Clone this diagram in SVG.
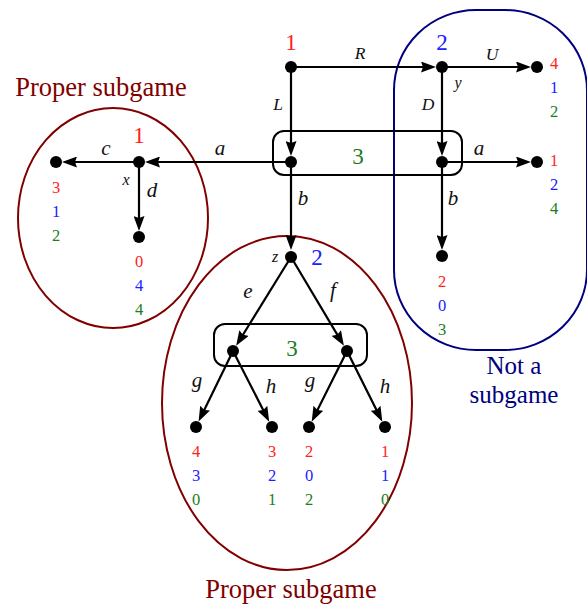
<svg xmlns="http://www.w3.org/2000/svg" width="587" height="610" viewBox="0 0 587 610">
<style>
.t{font-family:"Liberation Serif","Times New Roman",serif}
.pl{font-size:23px;text-anchor:middle}
.ed{font-size:21px;font-style:italic;text-anchor:middle;fill:#111}
.md{font-size:17.5px;font-style:italic;text-anchor:middle;fill:#111}
.sm{font-size:16px;font-style:italic;text-anchor:middle;fill:#111}
.po{font-size:16.5px;text-anchor:middle}
.r{fill:#ff2020}.b{fill:#2020ff}.g{fill:#1b7d1b}
.e{stroke:#000;stroke-width:2.2;fill:none;marker-end:url(#ah)}
.dot{fill:#000}
.info{fill:none;stroke:#000;stroke-width:2}
.lab{font-size:26.5px}
.lab2{font-size:25px}
</style>
<defs>
<marker id="ah" markerUnits="userSpaceOnUse" markerWidth="15" markerHeight="11" refX="4" refY="5.5" orient="auto" viewBox="0 0 15 11">
<path d="M0,0 L15,5.5 L0,11 L2,5.5 z" fill="#000"/>
</marker>
</defs>
<g id="regions">
<ellipse cx="113" cy="218" rx="95" ry="110" fill="none" stroke="#800000" stroke-width="2"/>
<ellipse cx="287" cy="403" rx="125" ry="167" fill="none" stroke="#800000" stroke-width="2"/>
<rect x="394" y="10" width="193" height="340" rx="82" ry="80" fill="none" stroke="#000080" stroke-width="2"/>
<text class="t lab" x="101" y="96" text-anchor="middle" fill="#800000">Proper subgame</text>
<text class="t lab" x="291" y="598" text-anchor="middle" fill="#800000">Proper subgame</text>
<text class="t lab2" x="514" y="374" text-anchor="middle" fill="#000080">Not a</text>
<text class="t lab2" x="514" y="403" text-anchor="middle" fill="#000080">subgame</text>
</g>
<g id="infosets">
<rect class="info" x="273" y="131" width="189" height="44" rx="11"/>
<rect class="info" x="214" y="324" width="153" height="42" rx="11"/>
</g>
<g id="connectors">
<line class="e" x1="291" y1="67" x2="425" y2="67"/>
<line class="e" x1="442" y1="67" x2="520" y2="67"/>
<line class="e" x1="291" y1="67" x2="291" y2="145"/>
<line class="e" x1="442" y1="67" x2="442" y2="145"/>
<line class="e" x1="291" y1="162" x2="156" y2="162"/>
<line class="e" x1="139" y1="162" x2="73" y2="162"/>
<line class="e" x1="139" y1="162" x2="139" y2="220"/>
<line class="e" x1="291" y1="162" x2="291" y2="239"/>
<line class="e" x1="442" y1="162" x2="520" y2="162"/>
<line class="e" x1="442" y1="162" x2="442" y2="239"/>
<line class="e" x1="291" y1="257" x2="241.9" y2="336.5"/>
<line class="e" x1="291" y1="257" x2="338.3" y2="336.4"/>
<line class="e" x1="233" y1="351" x2="203.4" y2="411.7"/>
<line class="e" x1="233" y1="351" x2="264.2" y2="411.9"/>
<line class="e" x1="347" y1="351" x2="316.6" y2="411.8"/>
<line class="e" x1="347" y1="351" x2="377.4" y2="411.8"/>
</g>
<g id="edge-labels" class="t">
<text class="md" x="360" y="59">R</text>
<text class="md" x="492" y="60">U</text>
<text class="sm" x="458" y="88">y</text>
<text class="md" x="278" y="110">L</text>
<text class="md" x="428" y="110">D</text>
<text class="ed" x="479" y="155">a</text>
<text class="ed" x="220" y="155">a</text>
<text class="ed" x="303" y="205">b</text>
<text class="ed" x="453" y="205">b</text>
<text class="ed" x="106" y="155">c</text>
<text class="sm" x="126" y="185">x</text>
<text class="ed" x="152" y="197">d</text>
<text class="sm" x="275" y="262">z</text>
<text class="ed" x="248" y="298">e</text>
<text class="ed" x="333" y="297">f</text>
<text class="ed" x="197" y="387">g</text>
<text class="ed" x="271" y="393">h</text>
<text class="ed" x="310" y="387">g</text>
<text class="ed" x="385" y="393">h</text>
</g>
<g id="n-root"><circle class="dot" cx="291" cy="67" r="6"/><text class="t pl r" x="291" y="50">1</text></g>
<g id="n-y"><circle class="dot" cx="442" cy="67" r="6"/><text class="t pl b" x="442" y="50">2</text></g>
<g id="n-U"><circle class="dot" cx="537" cy="67" r="6"/><text class="t po r" x="554" y="69">4</text><text class="t po b" x="554" y="93">1</text><text class="t po g" x="554" y="117">2</text></g>
<g id="n-3L"><circle class="dot" cx="291" cy="162" r="6"/></g>
<g id="n-3R"><circle class="dot" cx="442" cy="162" r="6"/><text class="t pl g" x="358" y="164">3</text></g>
<g id="n-a"><circle class="dot" cx="537" cy="162" r="6"/><text class="t po r" x="554" y="166">1</text><text class="t po b" x="554" y="190">2</text><text class="t po g" x="554" y="214">4</text></g>
<g id="n-x"><circle class="dot" cx="139" cy="162" r="6"/><text class="t pl r" x="139" y="143">1</text></g>
<g id="n-c"><circle class="dot" cx="56" cy="162" r="6"/><text class="t po r" x="56" y="193">3</text><text class="t po b" x="56" y="217">1</text><text class="t po g" x="56" y="241">2</text></g>
<g id="n-d"><circle class="dot" cx="139" cy="237" r="6"/><text class="t po r" x="139" y="267">0</text><text class="t po b" x="139" y="291">4</text><text class="t po g" x="139" y="315">4</text></g>
<g id="n-bR"><circle class="dot" cx="442" cy="256" r="6"/><text class="t po r" x="442" y="287">2</text><text class="t po b" x="442" y="311">0</text><text class="t po g" x="442" y="335">3</text></g>
<g id="n-z"><circle class="dot" cx="291" cy="257" r="6"/><text class="t pl b" x="317" y="265">2</text></g>
<g id="n-e"><circle class="dot" cx="233" cy="351" r="6"/><text class="t pl g" x="292" y="356">3</text></g>
<g id="n-f"><circle class="dot" cx="347" cy="351" r="6"/></g>
<g id="n-eg"><circle class="dot" cx="196" cy="427" r="6"/><text class="t po r" x="196" y="457">4</text><text class="t po b" x="196" y="481">3</text><text class="t po g" x="196" y="505">0</text></g>
<g id="n-eh"><circle class="dot" cx="272" cy="427" r="6"/><text class="t po r" x="272" y="457">3</text><text class="t po b" x="272" y="481">2</text><text class="t po g" x="272" y="505">1</text></g>
<g id="n-fg"><circle class="dot" cx="309" cy="427" r="6"/><text class="t po r" x="309" y="457">2</text><text class="t po b" x="309" y="481">0</text><text class="t po g" x="309" y="505">2</text></g>
<g id="n-fh"><circle class="dot" cx="385" cy="427" r="6"/><text class="t po r" x="385" y="457">1</text><text class="t po b" x="385" y="481">1</text><text class="t po g" x="385" y="505">0</text></g>
</svg>
